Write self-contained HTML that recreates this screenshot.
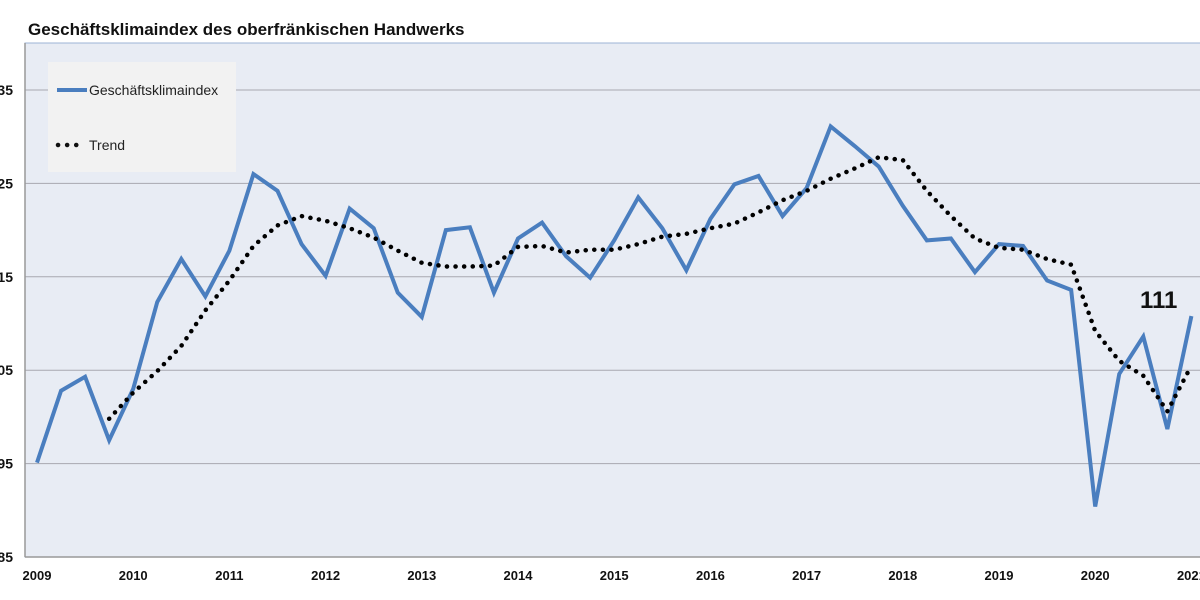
<!DOCTYPE html>
<html><head><meta charset="utf-8"><style>
html,body{margin:0;padding:0;background:#fff;}
svg{display:block;font-family:"Liberation Sans",sans-serif;}
</style></head><body>
<svg width="1200" height="600" viewBox="0 0 1200 600">
<text x="28" y="35" font-size="17" font-weight="bold" fill="#111">Geschäftsklimaindex des oberfränkischen Handwerks</text>
<rect x="25" y="43" width="1180" height="514" fill="#e8ecf4" stroke="#9db3d6" stroke-width="1"/>
<g id="grid"></g>
<line x1="25" y1="43" x2="25" y2="557" stroke="#999" stroke-width="1.5"/>
<line x1="25" y1="557" x2="1200" y2="557" stroke="#999" stroke-width="1.5"/>
<g id="ylab"></g><g id="xlab"></g>
<rect x="48" y="62" width="188" height="110" fill="#f2f2f2"/>
<line x1="57" y1="90" x2="87" y2="90" stroke="#4a7ebf" stroke-width="4"/>
<text x="89" y="95" font-size="14" fill="#222">Geschäftsklimaindex</text>
<line x1="58" y1="145" x2="80" y2="145" stroke="#111" stroke-width="4.5" stroke-dasharray="0.1 9" stroke-linecap="round"/>
<text x="89" y="150" font-size="14" fill="#222">Trend</text>
<g id="series"></g>
<text x="1140" y="308" font-size="24" font-weight="bold" fill="#111">111</text>
</svg>
<script>
const yTicks=[85,95,105,115,125,135];
const xYears=[2009,2010,2011,2012,2013,2014,2015,2016,2017,2018,2019,2020,2021];
const indexValues=[95.1,102.8,104.3,97.5,103,112.3,116.9,112.9,117.8,126,124.2,118.5,115.1,122.3,120.2,113.3,110.7,120,120.3,113.3,119.1,120.8,117.2,114.9,118.9,123.5,120.2,115.7,121.2,124.9,125.8,121.5,124.5,131.1,129,126.8,122.6,118.9,119.1,115.5,118.5,118.3,114.6,113.6,90.4,104.6,108.6,98.7,110.8];
const trendStart=3;
const trendValues=[99.8,102.6,104.9,107.6,111.4,114.6,118.3,120.5,121.5,121,120.2,119.2,117.8,116.5,116.1,116.1,116.2,118.2,118.3,117.6,117.9,117.9,118.5,119.3,119.6,120.2,120.7,121.9,123.2,124.2,125.5,126.6,127.8,127.5,124.2,121.5,119.1,118.1,117.9,116.9,116.3,109.2,106,104.4,100.6,105.5];
const NS="http://www.w3.org/2000/svg";
const y=v=>557-(v-85)*9.34;
const x=q=>37+q*24.05;
const grid=document.getElementById('grid'),yl=document.getElementById('ylab'),xl=document.getElementById('xlab'),ser=document.getElementById('series');
yTicks.forEach(t=>{
 if(t>85){const l=document.createElementNS(NS,'line');
 
 
 l.setAttribute('x1',25);l.setAttribute('x2',1200);l.setAttribute('y1',y(t));l.setAttribute('y2',y(t));
 l.setAttribute('stroke','#a8a8b0');l.setAttribute('stroke-width','1');grid.appendChild(l);}
 const tx=document.createElementNS(NS,'text');
 
 
 tx.setAttribute('x',13);tx.setAttribute('y',y(t)+5);tx.setAttribute('text-anchor','end');
 tx.setAttribute('font-size','14');tx.setAttribute('font-weight','bold');tx.setAttribute('fill','#111');
 tx.textContent=t;yl.appendChild(tx);
});
xYears.forEach((yr,i)=>{
 const tx=document.createElementNS(NS,'text');
 
 
 tx.setAttribute('x',x(i*4));tx.setAttribute('y',580);tx.setAttribute('text-anchor','middle');
 tx.setAttribute('font-size','13');tx.setAttribute('font-weight','bold');tx.setAttribute('fill','#111');
 tx.textContent=yr;xl.appendChild(tx);
});
const p1=document.createElementNS(NS,'polyline');


p1.setAttribute('points',indexValues.map((v,i)=>x(i)+','+y(v)).join(' '));
p1.setAttribute('fill','none');p1.setAttribute('stroke','#4a7ebf');p1.setAttribute('stroke-width','4');p1.setAttribute('stroke-linejoin','miter');
ser.appendChild(p1);
const p2=document.createElementNS(NS,'polyline');


p2.setAttribute('points',trendValues.map((v,i)=>x(i+trendStart)+','+y(v)).join(' '));
p2.setAttribute('fill','none');p2.setAttribute('stroke','#000');p2.setAttribute('stroke-width','4.5');
p2.setAttribute('stroke-dasharray','0.1 8.5');p2.setAttribute('stroke-linecap','round');
ser.appendChild(p2);
</script>
</body></html>
